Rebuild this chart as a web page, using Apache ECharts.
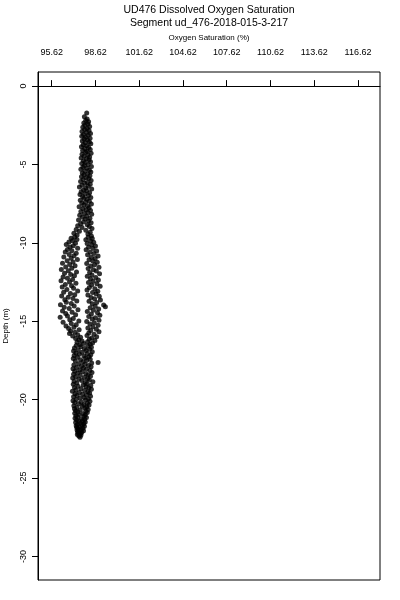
<!DOCTYPE html>
<html>
<head>
<meta charset="utf-8">
<script src="https://cdn.jsdelivr.net/npm/echarts@6/dist/echarts.min.js"></script>
<style>html,body{margin:0;padding:0;background:#fff}#c{width:400px;height:600px}</style>
</head>
<body>
<div id="c"></div>
<script>
// ---- data ----
const titleLine1 = 'UD476 Dissolved Oxygen Saturation';
const titleLine2 = 'Segment ud_476-2018-015-3-217';
const xName = 'Oxygen Saturation (%)';
const yName = 'Depth (m)';
const xTicks = [95.62, 98.62, 101.62, 104.62, 107.62, 110.62, 113.62, 116.62];
const yTicks = [0, -5, -10, -15, -20, -25, -30];

// upper column
const upperDepth = [-1.72,-1.95,-2.10,-2.20,-2.28,-2.35,-2.42,-2.50,-2.57,-2.63,-2.70,-2.76,-2.83,-2.90,-2.96,-3.02,-3.08,-3.14,-3.20,-3.26,-3.32,-3.38,-3.44,-3.50,-3.56,-3.62,-3.68,-3.74,-3.80,-3.86,-3.92,-3.98,-4.04,-4.10,-4.16,-4.22,-4.28,-4.34,-4.40,-4.46,-4.52,-4.58,-4.64,-4.70,-4.76,-4.82,-4.88,-4.94,-5.00,-5.06,-5.12,-5.18,-5.24,-5.30,-5.36,-5.42,-5.48,-5.54,-5.60,-5.66,-5.72,-5.78,-5.84,-5.90,-5.96,-6.02,-6.08,-6.14,-6.20,-6.26,-6.32,-6.38,-6.44,-6.50,-6.56,-6.62,-6.68,-6.74,-6.80,-6.86,-6.92,-6.98,-7.04,-7.10,-7.16,-7.22,-7.28,-7.34,-7.40,-7.46,-7.52,-7.58,-7.64,-7.70,-7.76,-7.82,-7.88,-7.94,-8.00,-8.06,-8.12,-8.18,-8.24,-8.30,-8.36,-8.42,-8.48,-8.54,-8.60,-8.66,-8.72,-8.78,-8.84,-8.90,-8.96,-9.02,-9.08,-9.14,-9.20,-9.26,-9.32,-9.38,-9.44,-9.50,-9.56];
const upperSat = [98.02,97.86,98.05,97.95,98.15,97.82,98.10,97.90,98.22,97.75,98.05,97.88,98.18,97.70,98.00,98.28,97.80,98.12,97.68,97.95,98.25,97.85,98.08,97.72,98.20,97.92,98.30,97.78,98.02,97.66,98.15,97.88,98.26,97.74,98.05,97.95,98.32,97.70,98.10,97.84,98.22,97.64,98.00,98.18,97.80,98.28,97.92,97.68,98.12,97.86,98.34,97.76,98.04,97.62,98.20,97.90,98.30,97.72,98.08,97.84,98.24,97.66,97.98,98.16,97.78,98.32,97.60,98.06,97.88,98.26,97.70,98.12,97.52,97.96,98.36,97.80,98.02,97.64,98.22,97.90,97.56,98.14,97.74,98.30,97.84,98.04,97.58,98.20,97.94,97.68,98.34,97.82,98.08,97.50,98.18,97.76,97.98,98.28,97.62,98.10,97.86,98.36,97.54,98.02,97.72,98.24,97.92,97.46,98.14,97.80,98.32,97.60,98.06,97.40,98.20,97.70,98.38,97.30,97.96,97.52,98.26,97.14,98.10,97.36,98.34];

// left branch
const leftDepth = [-9.62,-9.70,-9.78,-9.86,-9.94,-10.02,-10.10,-10.18,-10.26,-10.34,-10.42,-10.50,-10.58,-10.66,-10.74,-10.82,-10.90,-10.98,-11.06,-11.14,-11.22,-11.30,-11.38,-11.46,-11.54,-11.62,-11.70,-11.78,-11.86,-11.94,-12.02,-12.10,-12.18,-12.26,-12.34,-12.42,-12.50,-12.58,-12.66,-12.74,-12.82,-12.90,-12.98,-13.06,-13.14,-13.22,-13.30,-13.38,-13.46,-13.54,-13.62,-13.70,-13.78,-13.86,-13.94,-14.02,-14.10,-14.18,-14.26,-14.34,-14.42,-14.50,-14.58,-14.66,-14.74,-14.82,-14.90,-14.98,-15.06,-15.14,-15.22,-15.30,-15.38,-15.46,-15.54,-15.62,-15.70,-15.78,-15.86,-15.94,-16.02,-16.10,-16.18,-16.26,-16.34,-16.42,-16.50];
const leftSat = [97.20,96.95,97.35,97.05,96.80,97.25,96.62,97.10,96.88,97.40,96.70,97.00,96.55,97.30,96.82,97.15,96.45,96.95,97.38,96.68,97.08,96.36,96.85,97.22,96.58,97.00,96.28,96.76,97.32,96.50,96.92,97.18,96.40,96.70,97.05,96.26,96.84,97.28,96.55,96.98,96.34,97.12,96.66,97.40,96.44,96.90,97.20,96.30,96.75,97.08,96.52,97.34,96.62,96.96,96.22,97.16,96.48,96.82,97.42,96.36,97.02,96.58,97.26,96.70,96.20,97.10,96.86,97.48,96.40,96.96,97.30,96.60,97.14,96.78,97.50,96.92,97.22,96.84,97.40,97.06,97.60,97.26,97.48,97.70,97.36,97.82,97.55];

// right branch
const rightDepth = [-9.64,-9.72,-9.80,-9.88,-9.96,-10.04,-10.12,-10.20,-10.28,-10.36,-10.44,-10.52,-10.60,-10.68,-10.76,-10.84,-10.92,-11.00,-11.08,-11.16,-11.24,-11.32,-11.40,-11.48,-11.56,-11.64,-11.72,-11.80,-11.88,-11.96,-12.04,-12.12,-12.20,-12.28,-12.36,-12.44,-12.52,-12.60,-12.68,-12.76,-12.84,-12.92,-13.00,-13.08,-13.16,-13.24,-13.32,-13.40,-13.48,-13.56,-13.64,-13.72,-13.80,-13.88,-13.96,-14.04,-14.08,-14.14,-14.22,-14.30,-14.38,-14.46,-14.54,-14.62,-14.70,-14.78,-14.86,-14.94,-15.02,-15.10,-15.18,-15.26,-15.34,-15.42,-15.50,-15.58,-15.66,-15.74,-15.82,-15.90,-15.98,-16.06,-16.14,-16.22,-16.30,-16.38,-16.46];
const rightSat = [98.12,98.40,97.96,98.28,98.50,98.05,98.36,98.62,98.15,98.45,97.98,98.70,98.25,98.52,98.08,98.80,98.34,98.60,98.18,98.44,98.74,98.02,98.56,98.30,98.86,98.12,98.48,98.68,98.22,98.90,98.38,98.06,98.64,98.28,98.82,98.46,98.14,98.72,98.36,98.94,98.20,98.58,98.04,98.78,98.42,98.66,98.10,98.88,98.32,98.56,98.96,98.18,98.70,98.40,99.18,98.60,99.30,98.26,98.84,98.48,98.06,98.76,98.34,98.92,98.16,98.62,98.40,98.86,98.02,98.54,98.24,98.80,98.44,98.10,98.68,98.30,98.86,98.16,98.52,98.04,98.70,98.36,98.20,98.58,98.08,98.42,98.26];

// lower column
const lowerDepth = [-16.54,-16.58,-16.62,-16.66,-16.70,-16.74,-16.78,-16.82,-16.86,-16.90,-16.94,-16.98,-17.02,-17.06,-17.10,-17.14,-17.18,-17.22,-17.26,-17.30,-17.34,-17.38,-17.42,-17.46,-17.50,-17.54,-17.58,-17.62,-17.66,-17.70,-17.74,-17.78,-17.82,-17.86,-17.90,-17.94,-17.98,-18.02,-18.06,-18.10,-18.14,-18.18,-18.22,-18.26,-18.30,-18.34,-18.38,-18.42,-18.46,-18.50,-18.54,-18.58,-18.62,-18.66,-18.70,-18.74,-18.78,-18.82,-18.86,-18.90,-18.94,-18.98,-19.02,-19.06,-19.10,-19.14,-19.18,-19.22,-19.26,-19.30,-19.34,-19.38,-19.42,-19.46,-19.50,-19.54,-19.58,-19.62,-19.66,-19.70,-19.74,-19.78,-19.82,-19.86,-19.90,-19.94,-19.98,-20.02,-20.06,-20.10,-20.14,-20.18,-20.22,-20.26,-20.30,-20.34,-20.38,-20.42,-20.46,-20.50,-20.54,-20.58,-20.62,-20.66,-20.70,-20.74,-20.78,-20.82,-20.86,-20.90,-20.94,-20.98,-21.02,-21.06,-21.10,-21.14,-21.18,-21.22,-21.26,-21.30,-21.34,-21.38,-21.42,-21.46,-21.50,-21.54,-21.58,-21.62,-21.66,-21.70,-21.74,-21.78,-21.82,-21.86,-21.90,-21.94,-21.98,-22.02,-22.06,-22.10,-22.14,-22.18,-22.22,-22.26,-22.32,-22.40];
const lowerSat = [97.30,98.10,97.62,98.34,97.18,97.86,98.22,97.44,97.98,97.12,98.40,97.70,97.28,98.06,97.52,98.30,97.16,97.84,98.18,97.38,97.94,97.10,98.26,97.60,98.02,97.24,97.76,98.80,98.36,97.46,97.90,97.14,98.14,97.66,98.32,97.32,97.80,97.08,98.00,97.54,98.24,97.20,97.72,98.38,97.40,97.96,97.12,98.12,97.58,98.28,97.26,97.86,97.06,98.08,97.48,98.20,97.68,97.16,98.44,97.92,97.34,98.04,97.10,97.78,98.30,97.42,97.98,97.18,98.16,97.62,98.34,97.28,97.88,97.04,98.10,97.52,98.22,97.22,97.74,98.00,97.36,98.28,97.12,97.84,97.56,98.14,97.30,97.94,97.08,98.24,97.64,97.20,98.06,97.46,97.82,98.18,97.14,97.70,98.02,97.34,97.90,97.18,98.12,97.58,97.26,97.96,97.42,98.06,97.20,97.76,97.50,97.92,97.28,97.84,97.40,98.00,97.22,97.66,97.88,97.32,97.74,97.48,97.92,97.26,97.60,97.82,97.38,97.70,97.30,97.86,97.52,97.34,97.76,97.44,97.64,97.36,97.80,97.50,97.40,97.68,97.46,97.58,97.38,97.62,97.48,97.56];

// ---- chart ----
function pairs(sat, dep) { return sat.map((s, i) => [s, dep[i]]); }
const points = [].concat(
  pairs(upperSat, upperDepth),
  pairs(leftSat, leftDepth),
  pairs(rightSat, rightDepth),
  pairs(lowerSat, lowerDepth)
);

const FONT = '"Liberation Sans", Arial, Helvetica, sans-serif';
const chart = echarts.init(document.getElementById('c'), null, { renderer: 'canvas' });
chart.setOption({
  animation: false,
  backgroundColor: '#fff',
  textStyle: { fontFamily: FONT, color: '#000' },
  grid: { left: 38, right: 20, top: 72, bottom: 20, show: true, borderColor: '#000', borderWidth: 1, containLabel: false, outerBoundsMode: 'none' },
  graphic: [
    { type: 'text', x: 209, y: 10, style: { text: titleLine1, font: '10.5px ' + FONT, fill: '#000', textAlign: 'center', textVerticalAlign: 'middle' } },
    { type: 'text', x: 209, y: 23, style: { text: titleLine2, font: '10.5px ' + FONT, fill: '#000', textAlign: 'center', textVerticalAlign: 'middle' } }
  ],
  xAxis: {
    type: 'value', position: 'top', min: 94.68, max: 118.13,
    name: xName, nameLocation: 'middle', nameGap: 30,
    nameTextStyle: { fontSize: 8, color: '#000', fontFamily: FONT },
    axisLine: { show: true, lineStyle: { color: '#000', width: 1 } },
    axisTick: { show: true, length: 6, lineStyle: { color: '#000' }, customValues: xTicks },
    axisLabel: { show: true, fontSize: 9, color: '#000', fontFamily: FONT, margin: 15, customValues: xTicks, formatter: v => v.toFixed(2) },
    splitLine: { show: false }
  },
  yAxis: {
    type: 'value', min: -31.5, max: 0.9,
    name: yName, nameLocation: 'middle', nameGap: 28, nameRotate: 90,
    nameTextStyle: { fontSize: 8, color: '#000', fontFamily: FONT },
    axisLine: { show: true, lineStyle: { color: '#000', width: 1 } },
    axisTick: { show: true, length: 6, lineStyle: { color: '#000' }, customValues: yTicks },
    axisLabel: { show: true, fontSize: 9, color: '#000', fontFamily: FONT, rotate: 90, margin: 10, customValues: yTicks },
    splitLine: { show: false }
  },
  series: [{
    type: 'scatter', data: points, symbol: 'circle', symbolSize: 5,
    itemStyle: { color: '#000' }, silent: true
  }]
});
</script>
</body>
</html>
